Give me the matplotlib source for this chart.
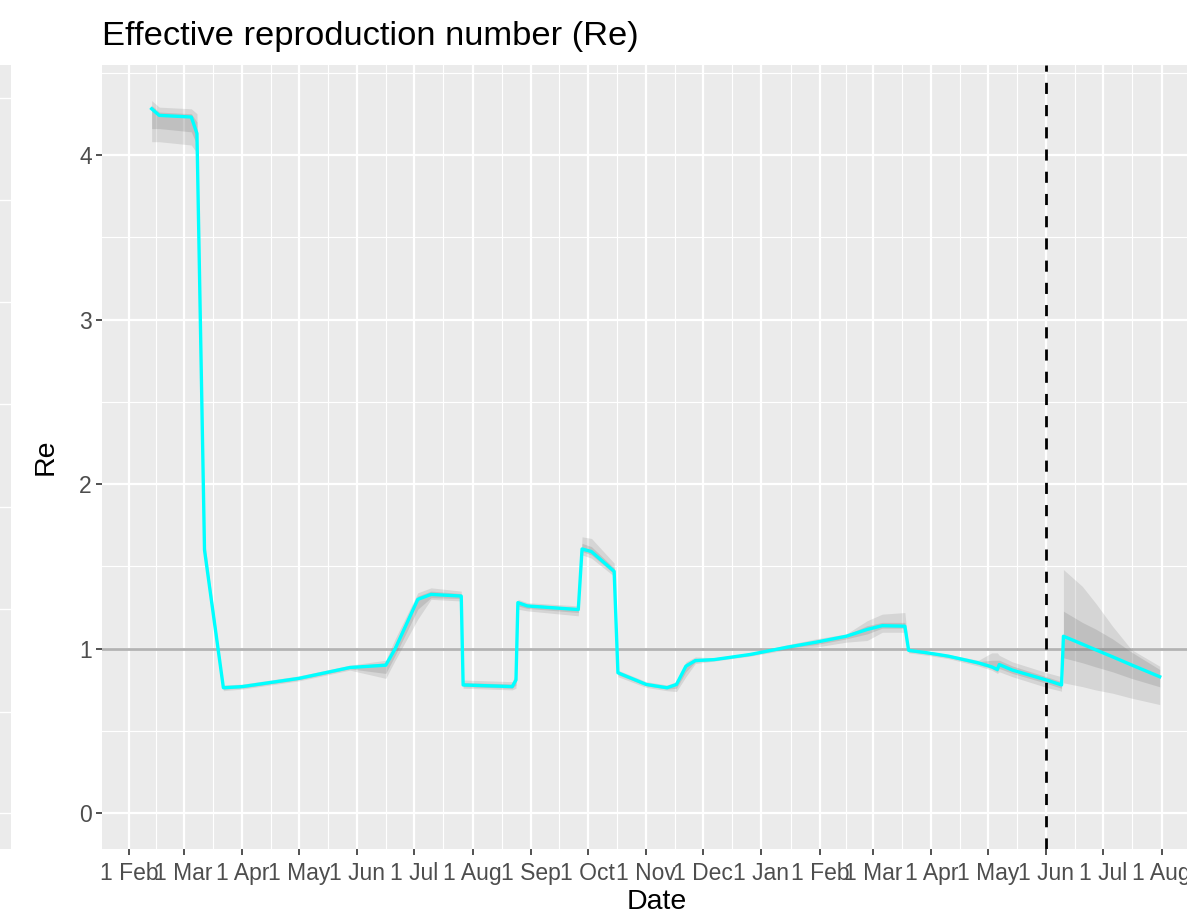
import matplotlib
matplotlib.use("Agg")
import matplotlib.pyplot as plt
import matplotlib.dates as mdates
from matplotlib.lines import Line2D
from matplotlib.patches import Rectangle
from matplotlib.ticker import FixedLocator, FuncFormatter
import numpy as np
import pandas as pd

plt.rcParams['font.family'] = ['Liberation Sans', 'DejaVu Sans']

# estimated Re (fitted part)
hist_dates = ['2020-02-13', '2020-02-17', '2020-03-05', '2020-03-08', '2020-03-12',
              '2020-03-22', '2020-04-01', '2020-05-01', '2020-05-28', '2020-06-16',
              '2020-06-21', '2020-07-03', '2020-07-10', '2020-07-26', '2020-07-27',
              '2020-08-22', '2020-08-24', '2020-08-25', '2020-08-30', '2020-09-26',
              '2020-09-28', '2020-10-03', '2020-10-15', '2020-10-17', '2020-11-01',
              '2020-11-12', '2020-11-17', '2020-11-22', '2020-11-27', '2020-12-07',
              '2020-12-26', '2021-01-15', '2021-01-30', '2021-02-15', '2021-02-26',
              '2021-03-06', '2021-03-18', '2021-03-20', '2021-03-30', '2021-04-10',
              '2021-04-26', '2021-05-03', '2021-05-06', '2021-05-07', '2021-05-14',
              '2021-06-01', '2021-06-09']
hist_re = [4.28, 4.24, 4.23, 4.13, 1.60,
           0.763, 0.77, 0.82, 0.886, 0.90,
           1.00, 1.30, 1.33, 1.32, 0.78,
           0.77, 0.81, 1.28, 1.26, 1.238,
           1.606, 1.59, 1.47, 0.854, 0.783,
           0.763, 0.783, 0.894, 0.928, 0.934,
           0.965, 1.01, 1.04, 1.076, 1.117,
           1.14, 1.137, 0.99, 0.975, 0.955,
           0.914, 0.89, 0.874, 0.904, 0.87,
           0.81, 0.78]
hist_lo95 = [4.08, 4.08, 4.06, 4.01, 1.55,
             0.745, 0.755, 0.805, 0.87, 0.82,
             0.93, 1.18, 1.30, 1.29, 0.76,
             0.75, 0.76, 1.24, 1.23, 1.20,
             1.57, 1.55, 1.44, 0.83, 0.765,
             0.745, 0.74, 0.83, 0.91, 0.925,
             0.955, 0.995, 1.01, 1.04, 1.05,
             1.10, 1.10, 0.975, 0.96, 0.94,
             0.895, 0.87, 0.85, 0.86, 0.83,
             0.765, 0.742]
hist_hi95 = [4.33, 4.29, 4.28, 4.25, 1.66,
             0.78, 0.785, 0.835, 0.90, 0.93,
             1.06, 1.34, 1.37, 1.35, 0.81,
             0.80, 0.85, 1.30, 1.28, 1.26,
             1.68, 1.67, 1.52, 0.87, 0.80,
             0.78, 0.80, 0.92, 0.95, 0.945,
             0.975, 1.025, 1.06, 1.09, 1.17,
             1.21, 1.22, 1.00, 0.985, 0.965,
             0.93, 0.975, 0.975, 0.96, 0.92,
             0.855, 0.83]
hist_lo50 = [4.16, 4.16, 4.14, 4.06, 1.57,
             0.755, 0.762, 0.812, 0.878, 0.85,
             0.96, 1.24, 1.31, 1.305, 0.77,
             0.76, 0.78, 1.26, 1.245, 1.22,
             1.59, 1.57, 1.455, 0.842, 0.775,
             0.755, 0.76, 0.86, 0.92, 0.93,
             0.96, 1.003, 1.025, 1.06, 1.09,
             1.125, 1.125, 0.982, 0.968, 0.948,
             0.905, 0.88, 0.86, 0.88, 0.85,
             0.79, 0.76]
hist_hi50 = [4.30, 4.26, 4.25, 4.20, 1.63,
             0.77, 0.778, 0.828, 0.894, 0.915,
             1.03, 1.32, 1.35, 1.335, 0.795,
             0.785, 0.83, 1.29, 1.27, 1.25,
             1.64, 1.62, 1.49, 0.862, 0.79,
             0.77, 0.79, 0.91, 0.94, 0.94,
             0.97, 1.017, 1.05, 1.085, 1.14,
             1.16, 1.16, 0.995, 0.98, 0.96,
             0.922, 0.93, 0.93, 0.93, 0.895,
             0.83, 0.80]

# projected Re
fc_dates = ['2021-06-10', '2021-06-20', '2021-06-27', '2021-07-06', '2021-07-16', '2021-07-31']
fc_re = [1.076, 1.028, 0.994, 0.951, 0.902, 0.83]
fc_lo95 = [0.793, 0.77, 0.75, 0.73, 0.70, 0.661]
fc_hi95 = [1.481, 1.379, 1.278, 1.137, 0.995, 0.894]
fc_lo50 = [0.945, 0.915, 0.89, 0.86, 0.82, 0.769]
fc_hi50 = [1.228, 1.16, 1.12, 1.06, 0.98, 0.874]

today = '2021-06-01'

month_ticks = pd.date_range('2020-02-01', '2021-08-01', freq='MS')

hd = pd.to_datetime(hist_dates)
fd = pd.to_datetime(fc_dates)

W, H = 1187, 922
TOP, BOT, LEFT, RIGHT = 65, 849, 102, 1212
fig = plt.figure(figsize=(W / 100, H / 100), dpi=100)

# sliver of the neighbouring panel at the left edge
fig.add_artist(Rectangle((0, (H - BOT) / H), 11 / W, (BOT - TOP) / H,
                         transform=fig.transFigure, color='#EBEBEB', lw=0))
for yp in [98, 200, 302, 404, 507, 609, 712, 813]:
    fig.add_artist(Line2D([0, 11 / W], [(H - yp) / H] * 2, transform=fig.transFigure,
                          color='white', lw=1.0))

ax = fig.add_axes([LEFT / W, (H - BOT) / H, (RIGHT - LEFT) / W, (BOT - TOP) / H])
ax.set_facecolor('#EBEBEB')
for s in ax.spines.values():
    s.set_visible(False)

x0 = mdates.date2num(pd.Timestamp('2020-02-01'))
ax.set_xlim(x0 - 14.3, x0 + 573.7)
ax.set_ylim(-0.2165, 4.546)

# grid
major_x = mdates.date2num(month_ticks)
minor_x = (major_x[:-1] + major_x[1:]) / 2
ax.xaxis.set_major_locator(FixedLocator(major_x))
ax.xaxis.set_minor_locator(FixedLocator(minor_x))
ax.yaxis.set_major_locator(FixedLocator([0, 1, 2, 3, 4]))
ax.yaxis.set_minor_locator(FixedLocator([0.5, 1.5, 2.5, 3.5, 4.5]))
ax.grid(which='major', color='white', lw=1.6)
ax.grid(which='minor', color='white', lw=0.8)
ax.set_axisbelow(True)

ax.xaxis.set_major_formatter(FuncFormatter(
    lambda v, p: '%d %s' % (mdates.num2date(v).day, mdates.num2date(v).strftime('%b'))))
ax.tick_params(which='major', length=4.2, width=1.2, color='#333333',
               labelcolor='#4D4D4D', labelsize=16.5, pad=3)
ax.tick_params(axis='x', which='major', pad=5.5)
ax.tick_params(which='minor', length=0)

ax.axhline(1, color='#B3B3B3', lw=2.0, zorder=2)

ax.fill_between(hd, hist_lo95, hist_hi95, color='#7F7F7F', alpha=0.2, lw=0, zorder=3)
ax.fill_between(hd, hist_lo50, hist_hi50, color='#7F7F7F', alpha=0.25, lw=0, zorder=3)
ax.fill_between(fd, fc_lo95, fc_hi95, color='#7F7F7F', alpha=0.2, lw=0, zorder=3)
ax.fill_between(fd, fc_lo50, fc_hi50, color='#7F7F7F', alpha=0.25, lw=0, zorder=3)

ax.plot(hd.append(fd), hist_re + fc_re, color='#00FFFF', lw=2.4, zorder=4)

ax.axvline(pd.Timestamp(today), color='black', lw=2.0, ls=(0, (4, 4)), zorder=5)

ax.set_xlabel('Date', fontsize=20.5, va='center')
ax.xaxis.set_label_coords(0.5, -(902 - BOT) / (BOT - TOP))
ax.set_ylabel('Re', fontsize=20.5, va='center')
ax.yaxis.set_label_coords(-(LEFT - 46) / (RIGHT - LEFT), 0.5)
fig.text(LEFT / W, 1 - 37 / H, 'Effective reproduction number (Re)', fontsize=24.8,
         ha='left', va='center')

fig.savefig('out.png', dpi=100)
